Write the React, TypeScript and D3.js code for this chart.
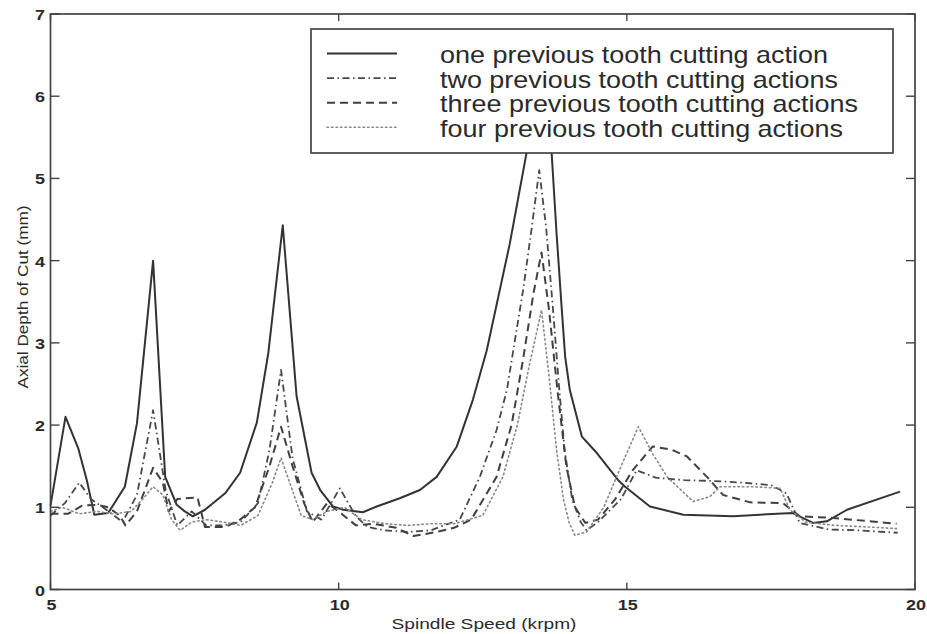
import React from "react";
import * as d3 from "d3";

// Stability lobes: axial depth of cut (mm) vs spindle speed (krpm)
const speedOne = [5.0, 5.26, 5.48, 5.63, 5.76, 6.0, 6.29, 6.5, 6.78, 6.99, 7.19, 7.33, 7.47, 7.68, 8.03, 8.29, 8.58, 8.78, 9.03, 9.27, 9.53, 9.68, 9.9, 10.08, 10.42, 10.66, 11.06, 11.41, 11.7, 12.05, 12.33, 12.57, 12.97, 13.11, 13.26, 13.45, 13.6, 13.69, 13.78, 13.86, 13.93, 14.01, 14.22, 14.48, 14.85, 14.97, 15.4, 15.98, 16.84, 17.31, 17.88, 18.23, 18.47, 18.82, 19.74];
const depthOne = [1.02, 2.1, 1.72, 1.33, 0.91, 0.93, 1.25, 2.02, 4.0, 1.37, 1.03, 0.95, 0.89, 0.97, 1.17, 1.42, 2.03, 2.88, 4.43, 2.35, 1.42, 1.21, 1.01, 0.97, 0.94, 1.01, 1.11, 1.21, 1.37, 1.74, 2.31, 2.91, 4.21, 4.74, 5.31, 6.2, 6.1, 5.37, 4.34, 3.52, 2.83, 2.43, 1.86, 1.66, 1.33, 1.25, 1.01, 0.91, 0.89, 0.91, 0.93, 0.81, 0.83, 0.97, 1.19];

const speedTwo = [5.0, 5.25, 5.5, 5.7, 5.95, 6.25, 6.5, 6.78, 7.0, 7.2, 7.45, 7.7, 8.0, 8.3, 8.6, 8.8, 9.0, 9.2, 9.45, 9.7, 10.02, 10.3, 10.5, 10.8, 11.2, 11.6, 12.1, 12.45, 12.74, 12.92, 13.06, 13.2, 13.35, 13.48, 13.6, 13.72, 13.82, 13.92, 14.05, 14.2, 14.3, 14.5, 14.9, 15.17, 15.5, 16.0, 16.5, 17.0, 17.5, 17.77, 18.0, 18.5, 19.0, 19.7];
const depthTwo = [0.9, 1.05, 1.3, 1.1, 0.98, 0.82, 1.15, 2.18, 1.2, 0.78, 0.95, 0.78, 0.78, 0.82, 1.05, 1.7, 2.67, 1.6, 0.95, 0.85, 1.23, 0.89, 0.76, 0.72, 0.7, 0.72, 0.85, 1.37, 1.94, 2.43, 3.04, 3.64, 4.4, 5.1, 4.4, 3.4, 2.5, 1.7, 1.1, 0.82, 0.72, 0.82, 1.1, 1.45, 1.36, 1.33, 1.32, 1.3, 1.27, 1.17, 0.81, 0.73, 0.72, 0.69];

const speedThree = [5.0, 5.3, 5.55, 5.8, 6.0, 6.2, 6.3, 6.5, 6.78, 6.95, 7.05, 7.2, 7.55, 7.68, 8.03, 8.29, 8.55, 8.8, 9.0, 9.2, 9.4, 9.55, 9.8, 10.0, 10.3, 10.6, 11.0, 11.3, 11.7, 12.0, 12.3, 12.74, 13.0, 13.2, 13.38, 13.52, 13.65, 13.8, 13.95, 14.1, 14.28, 14.5, 14.8, 15.1, 15.45, 15.78, 16.04, 16.39, 16.67, 17.14, 17.71, 18.0, 18.58, 19.68];
const depthThree = [0.92, 0.92, 1.02, 1.03, 1.0, 0.9, 0.78, 0.95, 1.48, 1.3, 0.95, 1.1, 1.12, 0.76, 0.76, 0.85, 1.0, 1.5, 1.98, 1.5, 1.05, 0.82, 1.05, 0.95, 0.78, 0.8, 0.75, 0.65, 0.7, 0.75, 0.85, 1.37, 2.0, 2.8, 3.6, 4.1, 3.4, 2.4, 1.5, 1.0, 0.81, 0.85, 1.1, 1.45, 1.74, 1.7, 1.62, 1.37, 1.15, 1.06, 1.05, 0.89, 0.87, 0.8];

const speedFour = [5.0, 5.2, 5.5, 5.8, 6.1, 6.4, 6.6, 6.78, 6.95, 7.1, 7.25, 7.45, 7.7, 8.0, 8.3, 8.6, 8.85, 9.0, 9.15, 9.35, 9.55, 9.8, 10.1, 10.4, 10.8, 11.2, 11.6, 12.0, 12.5, 12.85, 13.1, 13.3, 13.52, 13.65, 13.78, 13.9, 14.0, 14.1, 14.3, 14.6, 14.9, 15.2, 15.45, 15.7, 16.15, 16.44, 16.62, 17.2, 17.66, 17.83, 18.1, 18.6, 19.2, 19.7];
const depthFour = [0.95, 1.0, 0.92, 0.95, 0.92, 0.95, 1.1, 1.25, 1.15, 0.85, 0.72, 0.82, 0.85, 0.82, 0.78, 0.9, 1.3, 1.6, 1.3, 0.9, 0.85, 0.95, 1.0, 0.85, 0.8, 0.78, 0.8, 0.8, 0.9, 1.37, 2.0, 2.7, 3.4, 2.6, 1.7, 1.1, 0.81, 0.66, 0.7, 1.0, 1.5, 1.98, 1.65, 1.37, 1.07, 1.13, 1.25, 1.25, 1.23, 0.97, 0.82, 0.78, 0.76, 0.74];

const seriesNames = [
  "one previous tooth cutting action",
  "two previous tooth cutting actions",
  "three previous tooth cutting actions",
  "four previous tooth cutting actions",
];

const xTicks = [5, 10, 15, 20];
const yTicks = [0, 1, 2, 3, 4, 5, 6, 7];

const xLabel = "Spindle Speed (krpm)";
const yLabel = "Axial Depth of Cut (mm)";

const FONT = "'Liberation Sans', Arial, Helvetica, sans-serif";

const styles = [
  { stroke: "#333", width: 2.0, dash: "none" },
  { stroke: "#484848", width: 1.8, dash: "7 3.5 1.5 3.5" },
  { stroke: "#404040", width: 2.0, dash: "8 5" },
  { stroke: "#888", width: 1.6, dash: "1.5 3" },
];

export default function App() {
  const W = 927;
  const H = 634;
  const left = 50.5;
  const right = 915;
  const top = 14;
  const bottom = 589.5;

  const x = d3.scaleLinear().domain([5, 20]).range([left, right]);
  const y = d3.scaleLinear().domain([0, 7]).range([bottom, top]);

  const line = d3
    .line<[number, number]>()
    .x((d) => x(d[0]))
    .y((d) => y(d[1]));

  const series: [number, number][][] = [
    speedOne.map((s, i) => [s, depthOne[i]]),
    speedTwo.map((s, i) => [s, depthTwo[i]]),
    speedThree.map((s, i) => [s, depthThree[i]]),
    speedFour.map((s, i) => [s, depthFour[i]]),
  ];

  // legend box geometry
  const lg = { x: 311, y: 29, w: 582, h: 124 };
  const rowY0 = 53.5;
  const rowStep = 24.6;
  const legendWidths = [388, 398, 418, 403];

  const axisColor = "#444";
  const textColor = "#2a2a2a";

  return (
    <svg
      width={W}
      height={H}
      style={{ position: "absolute", left: 0, top: 0, background: "#fff" }}
      fontFamily={FONT}
    >
      <rect x={0} y={0} width={W} height={H} fill="#fff" />

      {/* curves */}
      <g fill="none" strokeLinejoin="round">
        {series.map((pts, i) => (
          <path
            key={i}
            d={line(pts) || ""}
            stroke={styles[i].stroke}
            strokeWidth={styles[i].width}
            strokeDasharray={styles[i].dash}
            strokeLinecap={i === 3 ? "round" : "butt"}
          />
        ))}
      </g>

      {/* axes box */}
      <rect
        x={left}
        y={top}
        width={right - left}
        height={bottom - top}
        fill="none"
        stroke={axisColor}
        strokeWidth={1.7}
      />

      {/* inward ticks */}
      <g stroke={axisColor} strokeWidth={1.4}>
        {xTicks.map((t) => (
          <g key={"xt" + t}>
            <line x1={x(t)} x2={x(t)} y1={bottom} y2={bottom - 7} />
            <line x1={x(t)} x2={x(t)} y1={top} y2={top + 7} />
          </g>
        ))}
        {yTicks.map((t) => (
          <g key={"yt" + t}>
            <line x1={left} x2={left + 9} y1={y(t)} y2={y(t)} />
            <line x1={right} x2={right - 9} y1={y(t)} y2={y(t)} />
          </g>
        ))}
      </g>

      {/* tick labels */}
      <g fill={textColor} fontSize={15} fontWeight="bold">
        {xTicks.map((t) => (
          <text
            key={"xl" + t}
            x={x(t) + 1}
            y={610}
            textAnchor="middle"
            textLength={String(t).length * 10}
            lengthAdjust="spacingAndGlyphs"
          >
            {t}
          </text>
        ))}
        {yTicks.map((t) => (
          <text
            key={"yl" + t}
            x={45}
            y={y(t) + 6}
            textAnchor="end"
            textLength={10}
            lengthAdjust="spacingAndGlyphs"
          >
            {t}
          </text>
        ))}
      </g>

      {/* axis titles */}
      <text
        x={484}
        y={629}
        textAnchor="middle"
        fontSize={15}
        fill={textColor}
        textLength={185}
        lengthAdjust="spacingAndGlyphs"
      >
        {xLabel}
      </text>
      <text
        transform={`translate(28, 297) rotate(-90)`}
        textAnchor="middle"
        fontSize={15}
        fill={textColor}
        textLength={183}
        lengthAdjust="spacingAndGlyphs"
      >
        {yLabel}
      </text>

      {/* legend */}
      <g>
        <rect
          x={lg.x}
          y={lg.y}
          width={lg.w}
          height={lg.h}
          fill="#fff"
          stroke={axisColor}
          strokeWidth={1.7}
        />
        {seriesNames.map((name, i) => {
          const ry = rowY0 + i * rowStep;
          return (
            <g key={name}>
              <line
                x1={327}
                x2={397}
                y1={ry}
                y2={ry}
                stroke={styles[i].stroke}
                strokeWidth={styles[i].width}
                strokeDasharray={styles[i].dash}
                strokeLinecap={i === 3 ? "round" : "butt"}
              />
              <text
                x={440}
                y={ry + 9.5}
                fontSize={24}
                fill={textColor}
                textLength={legendWidths[i]}
                lengthAdjust="spacingAndGlyphs"
              >
                {name}
              </text>
            </g>
          );
        })}
      </g>
    </svg>
  );
}
